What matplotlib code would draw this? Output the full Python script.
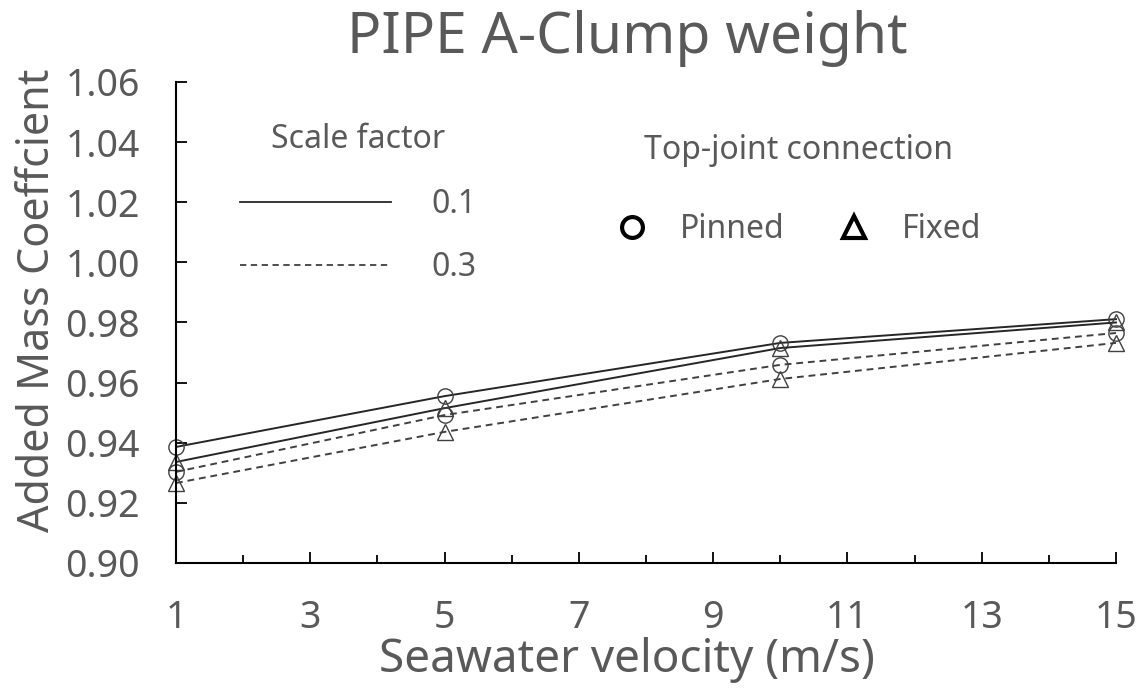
import matplotlib.pyplot as plt
from matplotlib.lines import Line2D

plt.rcParams['font.family'] = ['Noto Sans', 'DejaVu Sans']

# seawater velocity (m/s)
velocity = [1, 5, 10, 15]

# added mass coefficient
pinned_01 = [0.9386, 0.9555, 0.9732, 0.9811]
fixed_01 = [0.9336, 0.9515, 0.9715, 0.9800]
pinned_03 = [0.9303, 0.9492, 0.9659, 0.9765]
fixed_03 = [0.9266, 0.9436, 0.9612, 0.9732]

x_ticks = [1, 3, 5, 7, 9, 11, 13, 15]
y_ticks = [0.90, 0.92, 0.94, 0.96, 0.98, 1.00, 1.02, 1.04, 1.06]

text_color = "#595959"
line_color = "#262626"
dash_color = "#404040"

fig = plt.figure(figsize=(11.46, 6.97), dpi=100)
ax = fig.add_axes([0.1536, 0.1923, 0.8202, 0.6901])

series = [
    (pinned_01, "-", "o", line_color),
    (fixed_01, "-", "^", line_color),
    (pinned_03, (0, (3.5, 2.5)), "o", dash_color),
    (fixed_03, (0, (3.5, 2.5)), "^", dash_color),
]
for values, ls, mk, col in series:
    ax.plot(velocity, values, linestyle=ls, color=col, linewidth=1.4,
            marker=mk, markersize=11, markerfacecolor="none",
            markeredgecolor="#404040", markeredgewidth=1.0, clip_on=False)

ax.set_xlim(1, 15)
ax.set_ylim(0.90, 1.06)
ax.set_xticks(x_ticks)
ax.set_xticks(range(2, 15, 2), minor=True)
ax.set_yticks(y_ticks)
ax.set_yticklabels([f"{v:.2f}" for v in y_ticks])

for side in ["top", "right"]:
    ax.spines[side].set_visible(False)
for side in ["left", "bottom"]:
    ax.spines[side].set_linewidth(1.5)
    ax.spines[side].set_color("black")

ax.tick_params(axis="both", which="major", direction="in", length=8, width=1.3,
               colors="black", labelcolor=text_color, labelsize=27)
ax.tick_params(axis="x", which="minor", direction="in", length=6, width=1.3)
ax.tick_params(axis="y", pad=26)
ax.tick_params(axis="x", pad=26)

ax.set_title("PIPE A-Clump weight", fontsize=41, color=text_color, pad=21, x=0.48)
ax.set_xlabel("Seawater velocity (m/s)", fontsize=33, color=text_color, labelpad=0, x=0.48)
ax.set_ylabel("Added Mass Coeffcient", fontsize=31, color=text_color, labelpad=4, y=0.547)

# legend for scale factor
scale_handles = [
    Line2D([], [], color=line_color, linewidth=1.3, linestyle="-"),
    Line2D([], [], color=dash_color, linewidth=1.3, linestyle=(0, (3.5, 2.5))),
]
leg1 = ax.legend(scale_handles, ["0.1", "0.3"], title="Scale factor",
                 loc="upper left", bbox_to_anchor=(0.037, 0.974),
                 frameon=False, fontsize=23, title_fontsize=23,
                 handlelength=4.75, handletextpad=1.25, labelspacing=0.94)
for t in leg1.get_texts():
    t.set_color(text_color)
leg1.get_title().set_color(text_color)
leg1._legend_box.sep = 23
ax.add_artist(leg1)

# legend for top-joint connection
joint_handles = [
    Line2D([], [], linestyle="none", marker="o", markersize=15,
           markerfacecolor="none", markeredgecolor="black", markeredgewidth=3),
    Line2D([], [], linestyle="none", marker="^", markersize=16,
           markerfacecolor="none", markeredgecolor="black", markeredgewidth=3),
]
leg2 = ax.legend(joint_handles, ["Pinned", "Fixed"], title="Top-joint connection",
                 loc="upper left", bbox_to_anchor=(0.438, 0.951), ncol=2,
                 frameon=False, fontsize=23, title_fontsize=23,
                 handlelength=1.0, handletextpad=0.97, columnspacing=1.7)
for t in leg2.get_texts():
    t.set_color(text_color)
leg2.get_title().set_color(text_color)
leg2._legend_box.sep = 33

fig.savefig("out.png", dpi=100)
